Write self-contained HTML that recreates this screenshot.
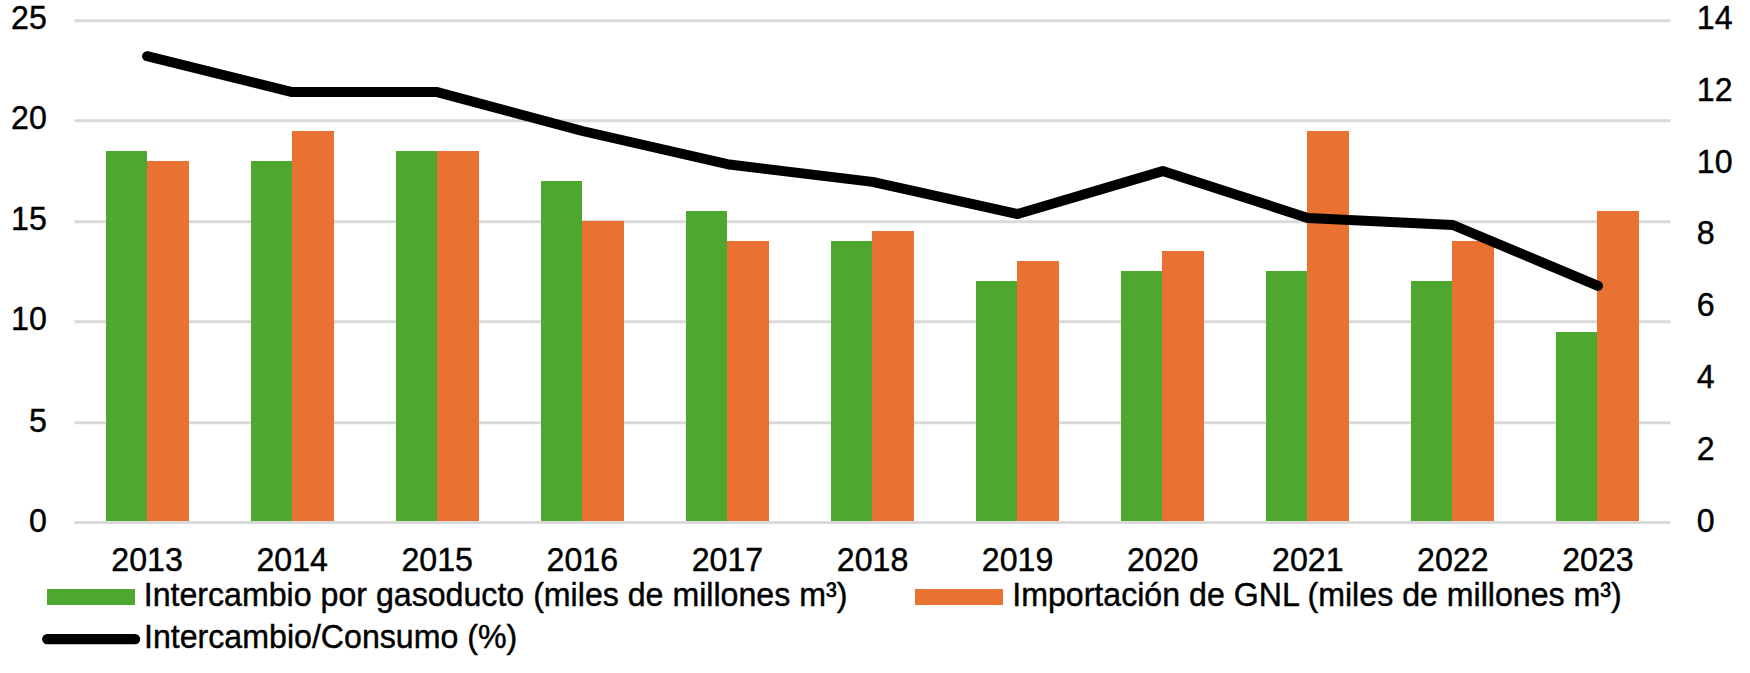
<!DOCTYPE html>
<html lang="es"><head><meta charset="utf-8"><title>Intercambio por gasoducto e importación de GNL</title>
<style>html,body{margin:0;padding:0;background:#fff;overflow:hidden}svg{display:block}</style></head>
<body>
<svg width="1750" height="673" viewBox="0 0 1750 673" role="img" aria-label="Intercambio por gasoducto, importación de GNL e Intercambio/Consumo, 2013-2023">
<rect width="1750" height="673" fill="#fff"/>
<g stroke="#d9d9d9" stroke-width="2.9">
<line x1="74.5" x2="1670.5" y1="20.75" y2="20.75"/>
<line x1="74.5" x2="1670.5" y1="120.75" y2="120.75"/>
<line x1="74.5" x2="1670.5" y1="221.75" y2="221.75"/>
<line x1="74.5" x2="1670.5" y1="321.75" y2="321.75"/>
<line x1="74.5" x2="1670.5" y1="422.75" y2="422.75"/>
<line x1="74.5" x2="1670.5" y1="522.55" y2="522.55"/>
</g>
<g shape-rendering="crispEdges">
<rect x="106" y="151" width="41" height="370" fill="#4ea72e"/>
<rect x="147" y="161" width="42" height="360" fill="#e97132"/>
<rect x="251" y="161" width="41" height="360" fill="#4ea72e"/>
<rect x="292" y="131" width="42" height="390" fill="#e97132"/>
<rect x="396" y="151" width="41" height="370" fill="#4ea72e"/>
<rect x="437" y="151" width="42" height="370" fill="#e97132"/>
<rect x="541" y="181" width="41" height="340" fill="#4ea72e"/>
<rect x="582" y="221" width="42" height="300" fill="#e97132"/>
<rect x="686" y="211" width="41" height="310" fill="#4ea72e"/>
<rect x="727" y="241" width="42" height="280" fill="#e97132"/>
<rect x="831" y="241" width="41" height="280" fill="#4ea72e"/>
<rect x="872" y="231" width="42" height="290" fill="#e97132"/>
<rect x="976" y="281" width="41" height="240" fill="#4ea72e"/>
<rect x="1017" y="261" width="42" height="260" fill="#e97132"/>
<rect x="1121" y="271" width="41" height="250" fill="#4ea72e"/>
<rect x="1162" y="251" width="42" height="270" fill="#e97132"/>
<rect x="1266" y="271" width="41" height="250" fill="#4ea72e"/>
<rect x="1307" y="131" width="42" height="390" fill="#e97132"/>
<rect x="1411" y="281" width="41" height="240" fill="#4ea72e"/>
<rect x="1452" y="241" width="42" height="280" fill="#e97132"/>
<rect x="1556" y="332" width="41" height="189" fill="#4ea72e"/>
<rect x="1597" y="211" width="42" height="310" fill="#e97132"/>
</g>
<polyline points="147.05,56.2 292.14,92.1 437.23,92.1 582.32,131.0 727.41,164.2 872.50,181.9 1017.59,214.0 1162.68,171.1 1307.77,217.9 1452.86,225.0 1597.95,285.8" fill="none" stroke="#000" stroke-width="10" stroke-linecap="round" stroke-linejoin="round"/>
<g font-family="'Liberation Sans', Arial, Helvetica, sans-serif" font-size="32.15" fill="#000" stroke="#000" stroke-width="0.42">
<text transform="translate(46.80 29.40) scale(1 1.055)" text-anchor="end">25</text>
<text transform="translate(46.80 129.40) scale(1 1.055)" text-anchor="end">20</text>
<text transform="translate(46.80 230.40) scale(1 1.055)" text-anchor="end">15</text>
<text transform="translate(46.80 330.40) scale(1 1.055)" text-anchor="end">10</text>
<text transform="translate(46.80 431.70) scale(1 1.055)" text-anchor="end">5</text>
<text transform="translate(46.80 532.00) scale(1 1.055)" text-anchor="end">0</text>
<text transform="translate(1696.80 29.40) scale(1 1.055)">14</text>
<text transform="translate(1696.80 101.09) scale(1 1.055)">12</text>
<text transform="translate(1696.80 172.77) scale(1 1.055)">10</text>
<text transform="translate(1696.80 244.46) scale(1 1.055)">8</text>
<text transform="translate(1696.80 316.14) scale(1 1.055)">6</text>
<text transform="translate(1696.80 387.83) scale(1 1.055)">4</text>
<text transform="translate(1696.80 459.51) scale(1 1.055)">2</text>
<text transform="translate(1696.80 532.00) scale(1 1.055)">0</text>
<text transform="translate(147.05 571.20) scale(1 1.055)" text-anchor="middle">2013</text>
<text transform="translate(292.14 571.20) scale(1 1.055)" text-anchor="middle">2014</text>
<text transform="translate(437.23 571.20) scale(1 1.055)" text-anchor="middle">2015</text>
<text transform="translate(582.32 571.20) scale(1 1.055)" text-anchor="middle">2016</text>
<text transform="translate(727.41 571.20) scale(1 1.055)" text-anchor="middle">2017</text>
<text transform="translate(872.50 571.20) scale(1 1.055)" text-anchor="middle">2018</text>
<text transform="translate(1017.59 571.20) scale(1 1.055)" text-anchor="middle">2019</text>
<text transform="translate(1162.68 571.20) scale(1 1.055)" text-anchor="middle">2020</text>
<text transform="translate(1307.77 571.20) scale(1 1.055)" text-anchor="middle">2021</text>
<text transform="translate(1452.86 571.20) scale(1 1.055)" text-anchor="middle">2022</text>
<text transform="translate(1597.95 571.20) scale(1 1.055)" text-anchor="middle">2023</text>
<text transform="translate(143.70 606.00) scale(1 1.055)">Intercambio por gasoducto (miles de millones m³)</text>
<text transform="translate(1012.20 606.00) scale(1 1.055)">Importación de GNL (miles de millones m³)</text>
<text transform="translate(144.00 648.00) scale(1 1.055)">Intercambio/Consumo (%)</text>
</g>
<rect x="47" y="589" width="88" height="16" fill="#4ea72e"/>
<rect x="915" y="589" width="88" height="16" fill="#e97132"/>
<line x1="47.2" x2="135.1" y1="639.05" y2="639.05" stroke="#000" stroke-width="10.3" stroke-linecap="round"/>
</svg>
</body></html>
